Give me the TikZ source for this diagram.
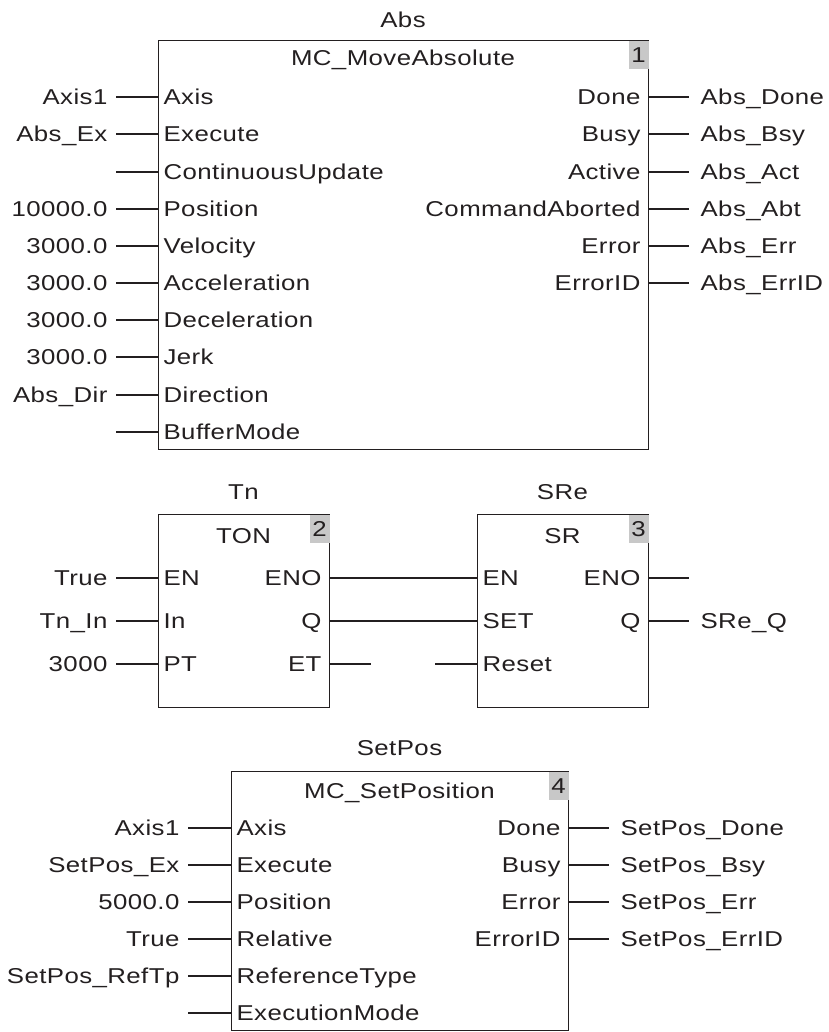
\documentclass[tikz,border=0pt]{standalone}
\usepackage{fontspec}
\setmainfont{Liberation Sans}[FakeStretch=1.2, LetterSpace=2]
\definecolor{ink}{RGB}{35,31,32}
\definecolor{badgegray}{RGB}{200,200,200}

\begin{document}
\begin{tikzpicture}[x=1pt, y=-1pt, line width=1.2pt, color=ink,
    font=\fontsize{21.5}{25}\selectfont,
    every node/.style={text height=15pt, text depth=0pt, inner ysep=0pt},
    fbox/.style={draw, anchor=north west, inner sep=0pt},
    badge/.style={fill=badgegray, anchor=north east, minimum width=20pt, minimum height=28pt, inner sep=0pt},
    pinin/.style={anchor=west, inner xsep=5pt},
    pinout/.style={anchor=east, inner xsep=7pt},
    sigin/.style={anchor=east, inner xsep=8pt},
    sigout/.style={anchor=west, inner xsep=11pt}]
    \useasboundingbox (0,0) rectangle (828,1032);

    % Abs : MC_MoveAbsolute
    \node[fbox, minimum width=490pt, minimum height=409pt] (absfb) at (158,40) {};
    \node (absname) at (403,20) {Abs};
    \node (abstype) at (403,58) {MC\_MoveAbsolute};
    \node[badge] (absno) at (absfb.north east) {1};

    \node[pinin] (absAxis) at (158,97) {Axis};
    \node[sigin] (absAxisv) at (116,97) {Axis1};
    \draw (absAxisv.east) -- (absAxis.west);
    \node[pinin] (absEx) at (158,134) {Execute};
    \node[sigin] (absExv) at (116,134) {Abs\_Ex};
    \draw (absExv.east) -- (absEx.west);
    \node[pinin] (absCU) at (158,172) {ContinuousUpdate};
    \coordinate (absCUv) at (116,172);
    \draw (absCUv) -- (absCU.west);
    \node[pinin] (absPos) at (158,209) {Position};
    \node[sigin] (absPosv) at (116,209) {10000.0};
    \draw (absPosv.east) -- (absPos.west);
    \node[pinin] (absVel) at (158,246) {Velocity};
    \node[sigin] (absVelv) at (116,246) {3000.0};
    \draw (absVelv.east) -- (absVel.west);
    \node[pinin] (absAcc) at (158,283) {Acceleration};
    \node[sigin] (absAccv) at (116,283) {3000.0};
    \draw (absAccv.east) -- (absAcc.west);
    \node[pinin] (absDec) at (158,320) {Deceleration};
    \node[sigin] (absDecv) at (116,320) {3000.0};
    \draw (absDecv.east) -- (absDec.west);
    \node[pinin] (absJerk) at (158,357) {Jerk};
    \node[sigin] (absJerkv) at (116,357) {3000.0};
    \draw (absJerkv.east) -- (absJerk.west);
    \node[pinin] (absDir) at (158,395) {Direction};
    \node[sigin] (absDirv) at (116,395) {Abs\_Dir};
    \draw (absDirv.east) -- (absDir.west);
    \node[pinin] (absBM) at (158,432) {BufferMode};
    \coordinate (absBMv) at (116,432);
    \draw (absBMv) -- (absBM.west);

    \node[pinout] (absDone) at (648,97) {Done};
    \node[sigout] (absDonev) at (689,97) {Abs\_Done};
    \draw (absDone.east) -- (absDonev.west);
    \node[pinout] (absBsy) at (648,134) {Busy};
    \node[sigout] (absBsyv) at (689,134) {Abs\_Bsy};
    \draw (absBsy.east) -- (absBsyv.west);
    \node[pinout] (absAct) at (648,172) {Active};
    \node[sigout] (absActv) at (689,172) {Abs\_Act};
    \draw (absAct.east) -- (absActv.west);
    \node[pinout] (absAbt) at (648,209) {CommandAborted};
    \node[sigout] (absAbtv) at (689,209) {Abs\_Abt};
    \draw (absAbt.east) -- (absAbtv.west);
    \node[pinout] (absErr) at (648,246) {Error};
    \node[sigout] (absErrv) at (689,246) {Abs\_Err};
    \draw (absErr.east) -- (absErrv.west);
    \node[pinout] (absErrID) at (648,283) {ErrorID};
    \node[sigout] (absErrIDv) at (689,283) {Abs\_ErrID};
    \draw (absErrID.east) -- (absErrIDv.west);

    % Tn : TON
    \node[fbox, minimum width=171pt, minimum height=193pt] (tnfb) at (158,514) {};
    \node (tnname) at (243.5,492) {Tn};
    \node (tntype) at (243.5,536) {TON};
    \node[badge] (tnno) at (tnfb.north east) {2};

    \node[pinin] (tnEN) at (158,578) {EN};
    \node[sigin] (tnENv) at (116,578) {True};
    \draw (tnENv.east) -- (tnEN.west);
    \node[pinin] (tnIn) at (158,621) {In};
    \node[sigin] (tnInv) at (116,621) {Tn\_In};
    \draw (tnInv.east) -- (tnIn.west);
    \node[pinin] (tnPT) at (158,664) {PT};
    \node[sigin] (tnPTv) at (116,664) {3000};
    \draw (tnPTv.east) -- (tnPT.west);

    \node[pinout] (tnENO) at (329,578) {ENO};
    \node[pinout] (tnQ) at (329,621) {Q};
    \node[pinout] (tnET) at (329,664) {ET};
    \coordinate (tnETv) at (371,664);
    \draw (tnET.east) -- (tnETv);

    % SRe : SR
    \node[fbox, minimum width=171pt, minimum height=193pt] (srfb) at (477,514) {};
    \node (srname) at (562.5,492) {SRe};
    \node (srtype) at (562.5,536) {SR};
    \node[badge] (srno) at (srfb.north east) {3};

    \node[pinin] (srEN) at (477,578) {EN};
    \node[pinin] (srSET) at (477,621) {SET};
    \node[pinin] (srReset) at (477,664) {Reset};
    \coordinate (srResetv) at (435,664);
    \draw (srResetv) -- (srReset.west);

    \node[pinout] (srENO) at (648,578) {ENO};
    \coordinate (srENOv) at (689,578);
    \draw (srENO.east) -- (srENOv);
    \node[pinout] (srQ) at (648,621) {Q};
    \node[sigout] (srQv) at (689,621) {SRe\_Q};
    \draw (srQ.east) -- (srQv.west);

    % TON -> SR
    \draw (tnENO.east) -- (srEN.west);
    \draw (tnQ.east) -- (srSET.west);

    % SetPos : MC_SetPosition
    \node[fbox, minimum width=337pt, minimum height=259pt] (spfb) at (231,771) {};
    \node (spname) at (399.5,748) {SetPos};
    \node (sptype) at (399.5,791) {MC\_SetPosition};
    \node[badge] (spno) at (spfb.north east) {4};

    \node[pinin] (spAxis) at (231,828) {Axis};
    \node[sigin] (spAxisv) at (188,828) {Axis1};
    \draw (spAxisv.east) -- (spAxis.west);
    \node[pinin] (spEx) at (231,865) {Execute};
    \node[sigin] (spExv) at (188,865) {SetPos\_Ex};
    \draw (spExv.east) -- (spEx.west);
    \node[pinin] (spPos) at (231,902) {Position};
    \node[sigin] (spPosv) at (188,902) {5000.0};
    \draw (spPosv.east) -- (spPos.west);
    \node[pinin] (spRel) at (231,939) {Relative};
    \node[sigin] (spRelv) at (188,939) {True};
    \draw (spRelv.east) -- (spRel.west);
    \node[pinin] (spRef) at (231,976) {ReferenceType};
    \node[sigin] (spRefv) at (188,976) {SetPos\_RefTp};
    \draw (spRefv.east) -- (spRef.west);
    \node[pinin] (spEM) at (231,1013) {ExecutionMode};
    \coordinate (spEMv) at (188,1013);
    \draw (spEMv) -- (spEM.west);

    \node[pinout] (spDone) at (568,828) {Done};
    \node[sigout] (spDonev) at (609,828) {SetPos\_Done};
    \draw (spDone.east) -- (spDonev.west);
    \node[pinout] (spBsy) at (568,865) {Busy};
    \node[sigout] (spBsyv) at (609,865) {SetPos\_Bsy};
    \draw (spBsy.east) -- (spBsyv.west);
    \node[pinout] (spErr) at (568,902) {Error};
    \node[sigout] (spErrv) at (609,902) {SetPos\_Err};
    \draw (spErr.east) -- (spErrv.west);
    \node[pinout] (spErrID) at (568,939) {ErrorID};
    \node[sigout] (spErrIDv) at (609,939) {SetPos\_ErrID};
    \draw (spErrID.east) -- (spErrIDv.west);
\end{tikzpicture}
\end{document}
